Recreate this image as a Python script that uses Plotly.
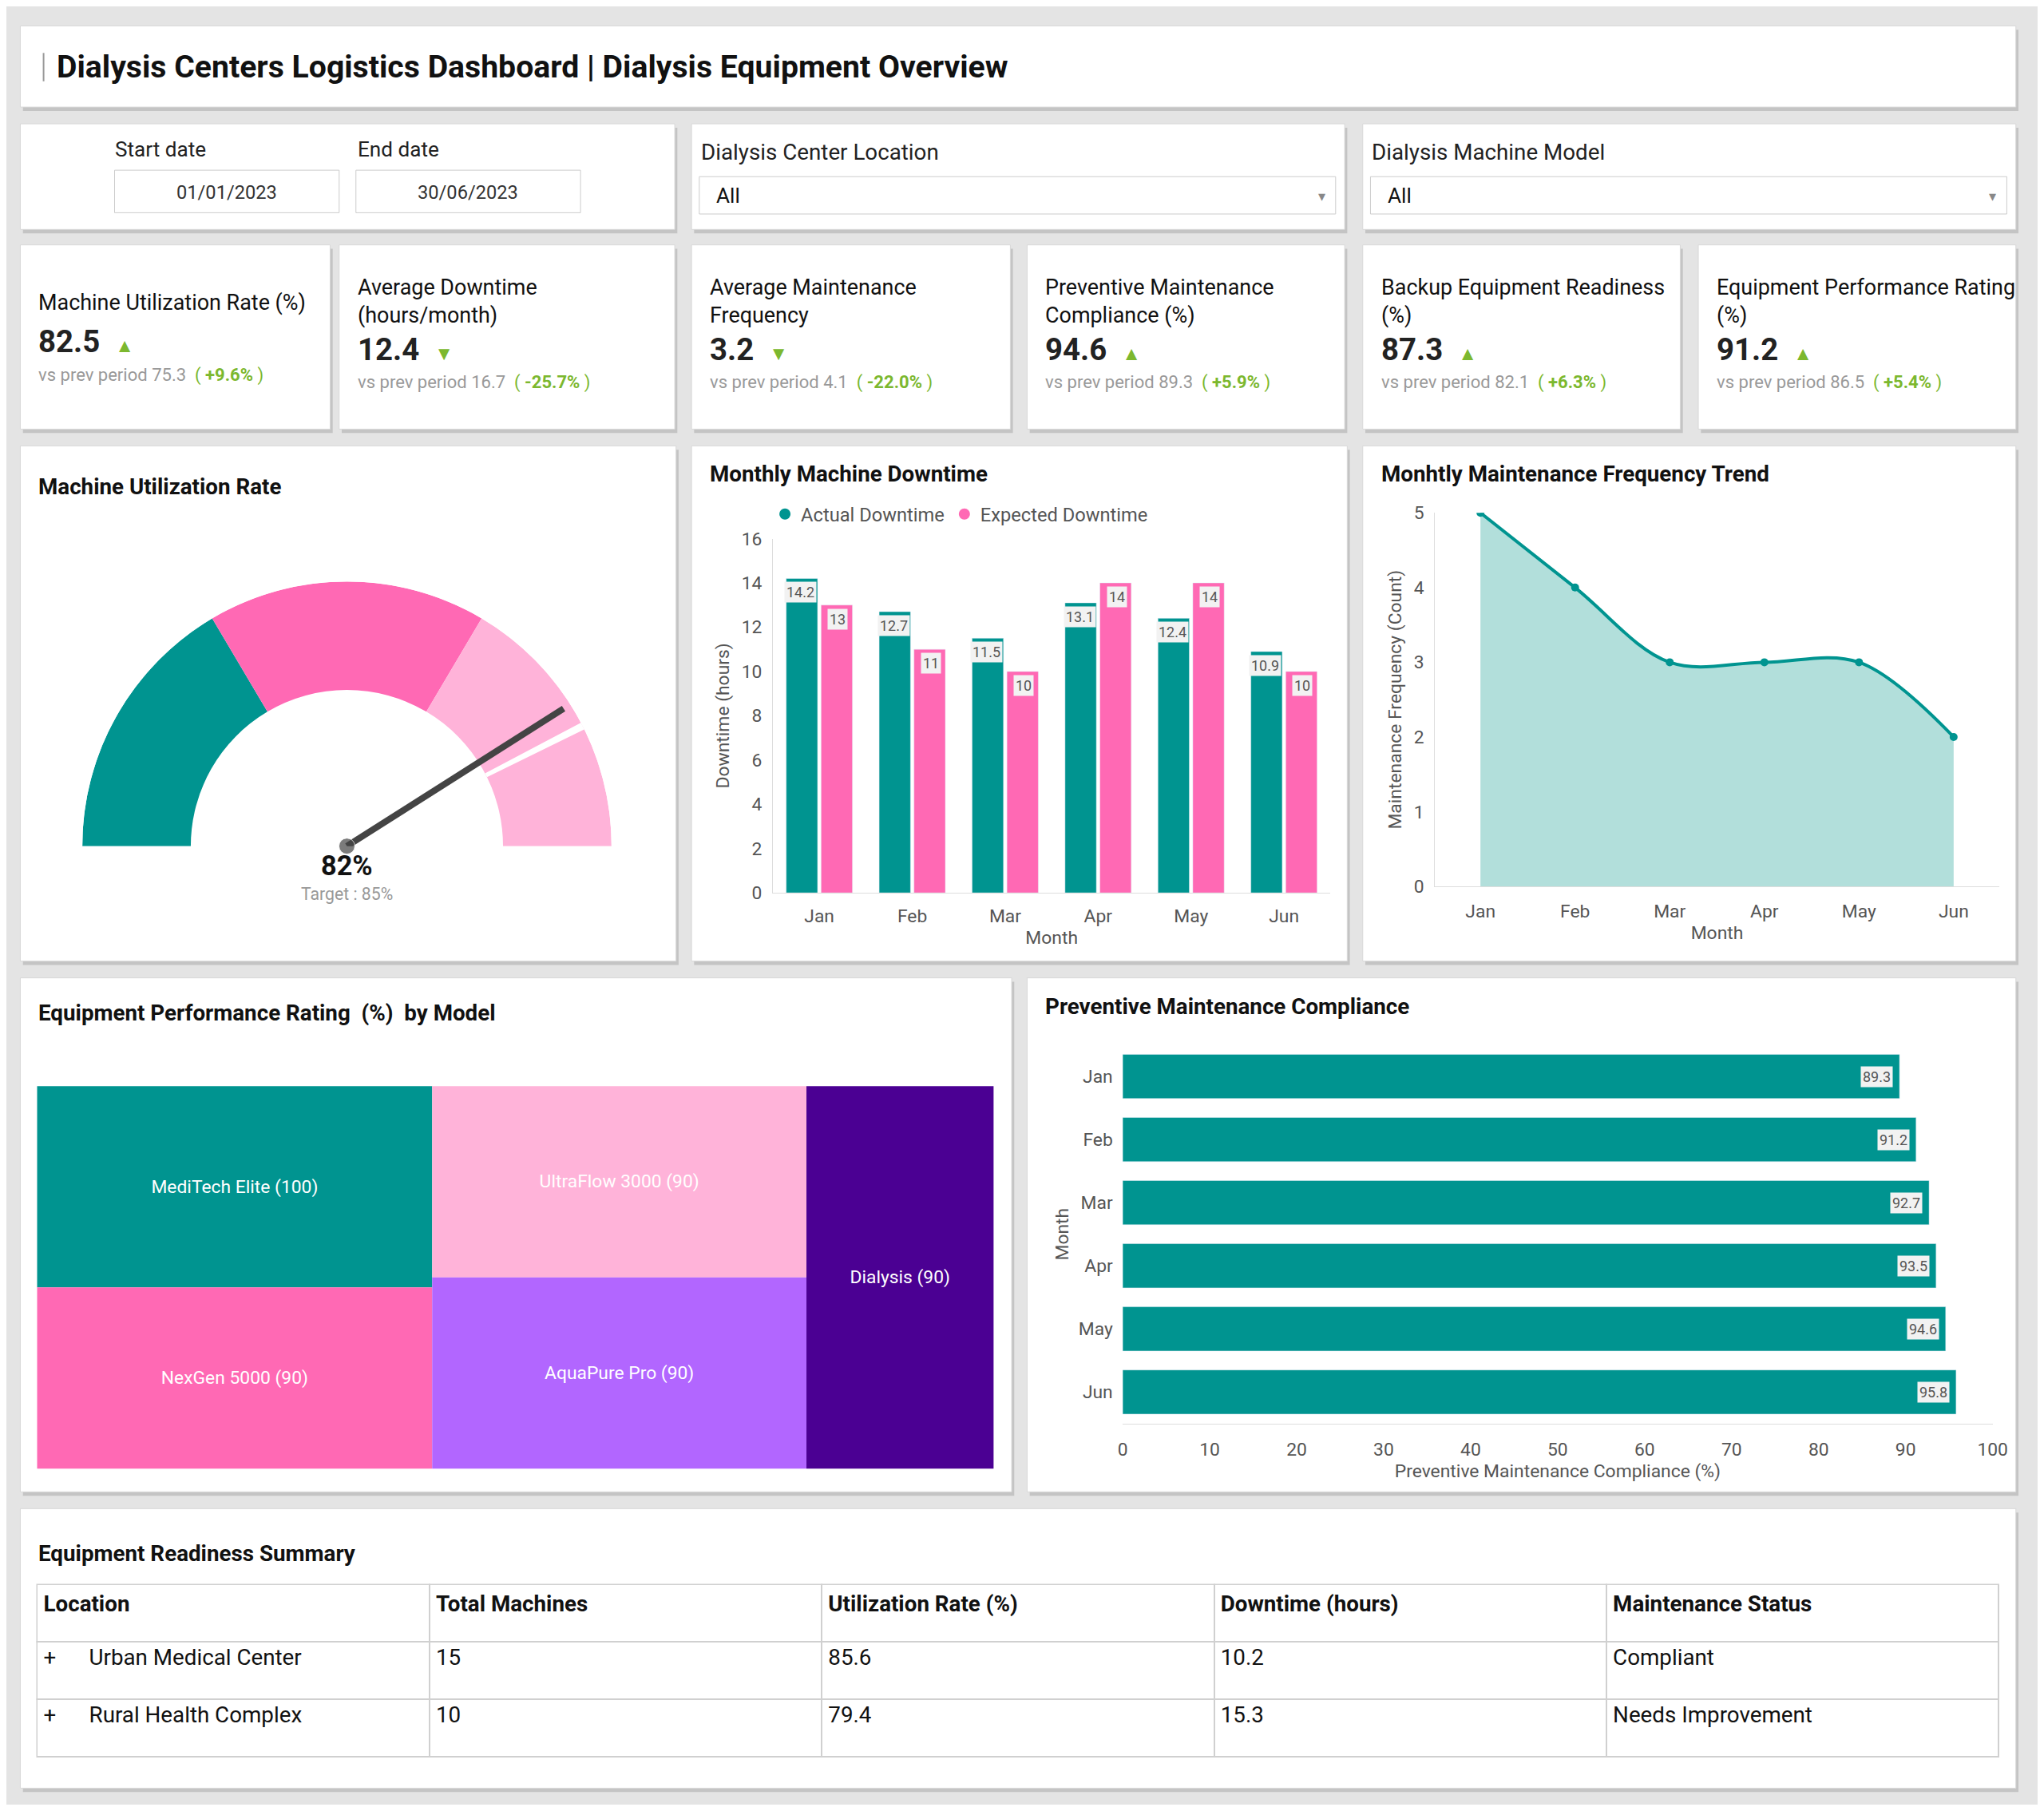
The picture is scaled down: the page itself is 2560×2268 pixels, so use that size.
import plotly.graph_objects as go

# ---- data ----
months = ["Jan", "Feb", "Mar", "Apr", "May", "Jun"]
actual_downtime = [14.2, 12.7, 11.5, 13.1, 12.4, 10.9]
expected_downtime = [13, 11, 10, 14, 14, 10]
maint_freq = [5, 4, 3, 3, 3, 2]
compliance = [89.3, 91.2, 92.7, 93.5, 94.6, 95.8]

models = ["MediTech Elite", "NexGen 5000", "UltraFlow 3000", "AquaPure Pro", "Dialysis"]
model_rating = [100, 90, 90, 90, 90]
model_colors = ["#009490", "#ff69b4", "#ffb3d9", "#b266ff", "#4b0093"]
model_group = ["g1", "g1", "g2", "g2", "g3"]

util_value = 82
util_target = 85
gauge_bands = [(0, 33), (33, 67), (67, 100)]
gauge_colors = ["#009490", "#ff69b4", "#ffb3d9"]
gauge_ticks = [0, 33, 67, 100]

kpi_titles = ["Machine Utilization Rate (%)", "Average Downtime<br>(hours/month)",
              "Average Maintenance<br>Frequency", "Preventive Maintenance<br>Compliance (%)",
              "Backup Equipment Readiness<br>(%)", "Equipment Performance Rating<br>(%)"]
kpi_values = ["82.5", "12.4", "3.2", "94.6", "87.3", "91.2"]
kpi_up = [True, False, False, True, True, True]
kpi_prev = ["75.3", "16.7", "4.1", "89.3", "82.1", "86.5"]
kpi_delta = ["+9.6%", "-25.7%", "-22.0%", "+5.9%", "+6.3%", "+5.4%"]

tbl_cols = ["Location", "Total Machines", "Utilization Rate (%)", "Downtime (hours)", "Maintenance Status"]
tbl_location = ["Urban Medical Center", "Rural Health Complex"]
tbl_machines = [15, 10]
tbl_util = [85.6, 79.4]
tbl_downtime = [10.2, 15.3]
tbl_status = ["Compliant", "Needs Improvement"]

# page has an 8px body margin, so the figure is 16px smaller than the window
PW, PH = 2560, 2268
W, H = PW - 16, PH - 16
RW, RH = 1568, 1389
S = PW / RW
TEAL = "#009490"
PINK = "#ff69b4"
GREEN = "#7cb82f"
FONT = "Roboto"
AXLINE = "#dddddd"


def X(x):
    return (x * S - 8) / W


def Y(y):
    return 1 - (y * PH / RH - 8) / H


fig = go.Figure()
shapes = []
ann = []


def card(x0, y0, x1, y1):
    shapes.append(dict(type="rect", xref="paper", yref="paper", x0=X(x0 + 2), x1=X(x1 + 2),
                       y0=Y(y1 + 3), y1=Y(y0 + 3), fillcolor="#c4c4c4", line_width=0, layer="below"))
    shapes.append(dict(type="rect", xref="paper", yref="paper", x0=X(x0), x1=X(x1),
                       y0=Y(y1), y1=Y(y0), fillcolor="white", line=dict(color="#d8d8d8", width=1), layer="below"))


def text(x, y, s, size, color="#111", anchor="left", bold=False, valign="middle"):
    if bold:
        s = "<b>" + s + "</b>"
    ann.append(dict(xref="paper", yref="paper", x=X(x), y=Y(y), text=s, showarrow=False,
                    xanchor=anchor, yanchor=valign, align=anchor if anchor != "center" else "center",
                    font=dict(family=FONT, size=size * S, color=color)))


# title bar
card(12, 12, 1558, 75)
shapes.append(dict(type="line", xref="paper", yref="paper", x0=X(30), x1=X(30), y0=Y(33), y1=Y(55),
                   line=dict(color="#999", width=2)))
text(39, 44, "Dialysis Centers Logistics Dashboard | Dialysis Equipment Overview", 24, bold=True)

# filters
card(12, 88, 519, 170)
text(84, 108, "Start date", 16, "#222")
text(272, 108, "End date", 16, "#222")
for x0, s in [(85, "01/01/2023"), (272, "30/06/2023")]:
    shapes.append(dict(type="rect", xref="paper", yref="paper", x0=X(x0), x1=X(x0 + 174), y0=Y(157), y1=Y(124),
                       line=dict(color="#ccc", width=1), fillcolor="white"))
    text(x0 + 87, 141, s, 14.5, "#333", anchor="center")
for x0, x1, lab in [(532, 1038, "Dialysis Center Location"), (1052, 1558, "Dialysis Machine Model")]:
    card(x0, 88, x1, 170)
    text(x0 + 6, 110, lab, 17, "#222")
    shapes.append(dict(type="rect", xref="paper", yref="paper", x0=X(x0 + 6), x1=X(x1 - 7), y0=Y(158), y1=Y(129),
                       line=dict(color="#ccc", width=1), fillcolor="white"))
    text(x0 + 18, 144, "All", 16, "#111")
    text(x1 - 22, 144, "▾", 11, "#888")

# KPI cards
kpi_x = [(12, 252), (259, 519), (532, 779), (792, 1038), (1052, 1298), (1312, 1558)]
for i, (x0, x1) in enumerate(kpi_x):
    card(x0, 182, x1, 325)
    two = "<br>" in kpi_titles[i]
    lx = x0 + 13 if i > 0 else 25
    text(lx, 226 if two else 227, kpi_titles[i], 16.5, "#111")
    arrow = "▲" if kpi_up[i] else "▼"
    text(lx, 263 if two else 257, "<b>%s</b>  <span style='color:%s;font-size:%dpx'>%s</span>"
         % (kpi_values[i], GREEN, int(15 * S), arrow), 23.5, "#222")
    text(lx, 289 if two else 283, "vs prev period %s  <span style='color:%s'>( <b>%s</b> )</span>"
         % (kpi_prev[i], GREEN, kpi_delta[i]), 13.5, "#999")

# row 3 cards
card(12, 338, 520, 738)
card(532, 338, 1040, 738)
card(1052, 338, 1558, 738)
text(25, 370, "Machine Utilization Rate", 17, bold=True)
text(545, 360, "Monthly Machine Downtime", 17, bold=True)
text(1065, 360, "Monhtly Maintenance Frequency Trend", 17, bold=True)

# gauge (polar)
for (a, b), c in zip(gauge_bands, gauge_colors):
    fig.add_trace(go.Barpolar(theta=[(a + b) / 2 * 1.8], width=[(b - a) * 1.8], base=[0.59], r=[0.41],
                              marker=dict(color=c, line_width=0), showlegend=False, subplot="polar"))
fig.add_trace(go.Barpolar(theta=[util_target * 1.8], width=[1.6], base=[0.59], r=[0.43],
                          marker=dict(color="white", line_width=0), showlegend=False, subplot="polar"))
fig.add_trace(go.Scatterpolar(r=[0, 0.97], theta=[util_value * 1.8] * 2, mode="lines+markers",
                              line=dict(color="#444", width=8), marker=dict(size=[20, 0], color="#444"),
                              showlegend=False, subplot="polar"))
fig.add_trace(go.Scatterpolar(r=[1.16] * len(gauge_ticks), theta=[t * 1.8 for t in gauge_ticks],
                              mode="text", text=["%d%%" % t for t in gauge_ticks],
                              textposition=["middle left", "top left", "top center", "middle right"],
                              textfont=dict(family=FONT, size=13 * S, color="#555"),
                              showlegend=False, subplot="polar", cliponaxis=False))
text(265, 664, "%d%%" % util_value, 21, "#111", anchor="center", bold=True)
text(265, 686, "Target : %d%%" % util_target, 13, "#999", anchor="center")

# downtime bars
fig.add_trace(go.Bar(x=months, y=actual_downtime, name="Actual Downtime", marker_color=TEAL,
                     showlegend=False, xaxis="x", yaxis="y"))
fig.add_trace(go.Bar(x=months, y=expected_downtime, name="Expected Downtime", marker_color=PINK,
                     showlegend=False, xaxis="x", yaxis="y"))
for nm, c in [("Actual Downtime", TEAL), ("Expected Downtime", PINK)]:
    fig.add_trace(go.Scatter(x=[None], y=[None], mode="markers", name=nm,
                             marker=dict(color=c, size=14, symbol="circle"), xaxis="x", yaxis="y"))
for i, m in enumerate(months):
    for v, off in [(actual_downtime[i], -0.2), (expected_downtime[i], 0.2)]:
        ann.append(dict(xref="x", yref="y", x=i + off, y=v, text=str(v), showarrow=False, yanchor="top",
                        yshift=-4, bgcolor="#f2f2f2", borderpad=2,
                        font=dict(family=FONT, size=11 * S, color="#555")))

# maintenance trend
fig.add_trace(go.Scatter(x=months, y=maint_freq, mode="lines+markers", fill="tozeroy",
                         fillcolor="#b2dfdb", line=dict(color=TEAL, width=4, shape="spline"),
                         marker=dict(size=10, color=TEAL), showlegend=False, xaxis="x2", yaxis="y2"))

# row 4
card(12, 751, 780, 1150)
card(792, 751, 1558, 1150)
text(25, 778, "Equipment Performance Rating  (%)  by Model", 17, bold=True)
text(805, 773, "Preventive Maintenance Compliance", 17, bold=True)

groups = sorted(set(model_group))
group_vals = [sum(v for v, g in zip(model_rating, model_group) if g == gr) for gr in groups]
fig.add_trace(go.Treemap(ids=groups + models, labels=[""] * len(groups) + models,
                         parents=[""] * len(groups) + model_group, values=group_vals + model_rating,
                         branchvalues="total",
                         marker=dict(colors=["white"] * len(groups) + model_colors, line=dict(width=0),
                                     pad=dict(t=0, l=0, r=0, b=0)),
                         texttemplate=[""] * len(groups) + ["%{label} (%{value})"] * len(models),
                         textposition="middle center",
                         textfont=dict(family=FONT, size=14 * S, color="white"),
                         tiling=dict(pad=0, packing="slice-dice"), sort=False, pathbar=dict(visible=False),
                         domain=dict(x=[X(25), X(766)], y=[Y(1132), Y(835)])))

fig.add_trace(go.Bar(y=months, x=compliance, orientation="h", marker_color=TEAL, width=0.7,
                     showlegend=False, xaxis="x3", yaxis="y3"))
for m, v in zip(months, compliance):
    ann.append(dict(xref="x3", yref="y3", x=v, y=m, text=str(v), showarrow=False, xanchor="right",
                    xshift=-8, bgcolor="#f2f2f2", borderpad=2,
                    font=dict(family=FONT, size=11 * S, color="#555")))

# table
card(12, 1163, 1558, 1380)
text(25, 1198, "Equipment Readiness Summary", 17, bold=True)
fig.add_trace(go.Table(
    domain=dict(x=[X(25), X(1545)], y=[Y(1360), Y(1222)]),
    columnwidth=[1] * 5,
    header=dict(values=["<b>%s</b>" % c for c in tbl_cols], align="left", height=44 * S,
                fill_color="white", line=dict(color="#d0d0d0", width=2),
                font=dict(family=FONT, size=17 * S, color="#111")),
    cells=dict(values=[["+      " + l for l in tbl_location],
                       tbl_machines, tbl_util, tbl_downtime, tbl_status],
               align="left", height=44 * S, fill_color="white", line=dict(color="#d0d0d0", width=2),
               font=dict(family=FONT, size=17 * S, color="#111"))))

tick = dict(family=FONT, size=14 * S, color="#555")
fig.update_layout(
    width=W, height=H, margin=dict(l=0, r=0, t=0, b=0),
    paper_bgcolor="#e4e4e4", plot_bgcolor="rgba(0,0,0,0)",
    font=dict(family=FONT, color="#444"),
    shapes=shapes, annotations=ann,
    barmode="group", bargap=0.25, bargroupgap=0.1,
    legend=dict(orientation="h", x=X(592), y=Y(391), xanchor="left", yanchor="middle",
                font=dict(family=FONT, size=14.5 * S, color="#555"), bgcolor="rgba(0,0,0,0)",
                itemwidth=30, tracegroupgap=0),
    polar=dict(domain=dict(x=[X(60), X(470)], y=[Y(649), Y(443)]), sector=[0, 180], bgcolor="rgba(0,0,0,0)",
               radialaxis=dict(visible=False, range=[0, 1]),
               angularaxis=dict(rotation=180, direction="clockwise", showgrid=False, showline=False,
                                ticks="", showticklabels=False)),
    xaxis=dict(domain=[X(595), X(1027)], anchor="y", tickfont=tick, showgrid=False, showline=True,
               linecolor=AXLINE, ticklabelstandoff=8,
               title=dict(text="Month", font=tick, standoff=6)),
    yaxis=dict(domain=[Y(685), Y(410)], anchor="x", range=[0, 16], dtick=2, tickfont=tick, showgrid=False,
               zeroline=False, showline=True, linecolor=AXLINE, ticklabelstandoff=8,
               title=dict(text="Downtime (hours)", font=tick, standoff=8)),
    xaxis2=dict(domain=[X(1108), X(1545)], anchor="y2", tickfont=tick, showgrid=False, showline=True,
                linecolor=AXLINE, ticklabelstandoff=10,
                range=[-0.48, 5.48], title=dict(text="Month", font=tick, standoff=6)),
    yaxis2=dict(domain=[Y(680), Y(390)], anchor="x2", range=[0, 5], dtick=1, tickfont=tick, showgrid=False,
                zeroline=False, showline=True, linecolor=AXLINE, ticklabelstandoff=8,
                title=dict(text="Maintenance Frequency (Count)", font=tick, standoff=8)),
    xaxis3=dict(domain=[X(866), X(1540)], anchor="y3", range=[0, 100], dtick=10, tickfont=tick,
                showgrid=False, zeroline=False, showline=True, linecolor=AXLINE, ticklabelstandoff=12,
                title=dict(text="Preventive Maintenance Compliance (%)", font=tick, standoff=5)),
    yaxis3=dict(domain=[Y(1097), Y(803)], anchor="x3", autorange="reversed", tickfont=tick, showgrid=False,
                ticksuffix="  ", title=dict(text="Month", font=tick, standoff=5)),
)

fig.write_html("out.html", config={"displayModeBar": False})
